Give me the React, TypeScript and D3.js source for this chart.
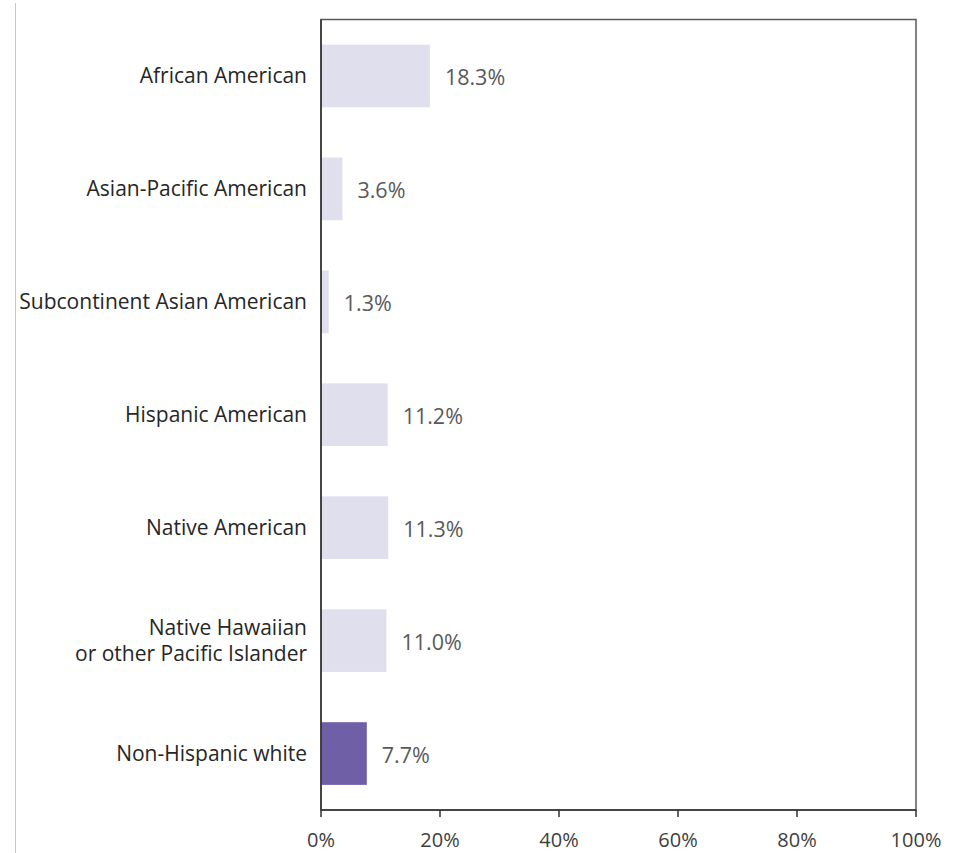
import React from "react";
import * as d3 from "d3";

const categories: string[][] = [
  ["African American"],
  ["Asian-Pacific American"],
  ["Subcontinent Asian American"],
  ["Hispanic American"],
  ["Native American"],
  ["Native Hawaiian", "or other Pacific Islander"],
  ["Non-Hispanic white"],
];
const values: number[] = [18.3, 3.6, 1.3, 11.2, 11.3, 11.0, 7.7];
const highlight: boolean[] = [false, false, false, false, false, false, true];
const ticks: number[] = [0, 20, 40, 60, 80, 100];

const W = 961;
const H = 853;
const left = 321;
const right = 916;
const top = 19.5;
const bottom = 810;
const FONT = "'Open Sans', sans-serif";

export default function App() {
  const x = d3.scaleLinear().domain([0, 100]).range([left, right]);
  const y = d3
    .scaleBand<number>()
    .domain(d3.range(categories.length))
    .range([top, bottom])
    .paddingInner(0.445)
    .paddingOuter(0.2225);
  const bw = y.bandwidth();

  return (
    <div style={{ position: "absolute", left: 0, top: 0 }}>
      <svg width={W} height={H} style={{ display: "block" }}>
        <rect x={0} y={0} width={W} height={H} fill="#fff" />
        <line x1={15.5} x2={15.5} y1={3} y2={853} stroke="#c8c8c8" strokeWidth={1} />
        {values.map((v, i) => (
          <g key={i}>
            <rect
              x={x(0)}
              y={y(i)!}
              width={x(v) - x(0)}
              height={bw}
              fill={highlight[i] ? "#6f5fa7" : "#e0dfee"}
            />
            <text
              x={x(v) + 15}
              y={y(i)! + bw / 2 + 1.5}
              dy="0.35em"
              fontFamily={FONT}
              fontSize={21.5}
              fill="#595959"
            >
              {v.toFixed(1) + "%"}
            </text>
          </g>
        ))}
        {categories.map((lines, i) => {
          const cy = y(i)! + bw / 2;
          const lh = 26;
          const start = cy - ((lines.length - 1) * lh) / 2;
          return (
            <text
              key={i}
              x={left - 14}
              textAnchor="end"
              fontFamily={FONT}
              fontSize={21}
              fill="#262626"
            >
              {lines.map((l, j) => (
                <tspan key={j} x={left - 14} y={start + j * lh} dy="0.35em">
                  {l}
                </tspan>
              ))}
            </text>
          );
        })}
        <rect
          x={left}
          y={top}
          width={right - left}
          height={bottom - top}
          fill="none"
          stroke="#595959"
          strokeWidth={1.5}
        />
        <line x1={left} x2={left} y1={top} y2={bottom} stroke="#303030" strokeWidth={1.5} />
        <line x1={left} x2={right} y1={bottom} y2={bottom} stroke="#303030" strokeWidth={1.5} />
        {ticks.map((t) => (
          <g key={t}>
            <line x1={x(t)} x2={x(t)} y1={bottom} y2={bottom + 7} stroke="#303030" strokeWidth={1.5} />
            <text
              x={x(t)}
              y={847}
              textAnchor="middle"
              fontFamily={FONT}
              fontSize={20}
              fill="#404040"
            >
              {t + "%"}
            </text>
          </g>
        ))}
      </svg>
    </div>
  );
}
